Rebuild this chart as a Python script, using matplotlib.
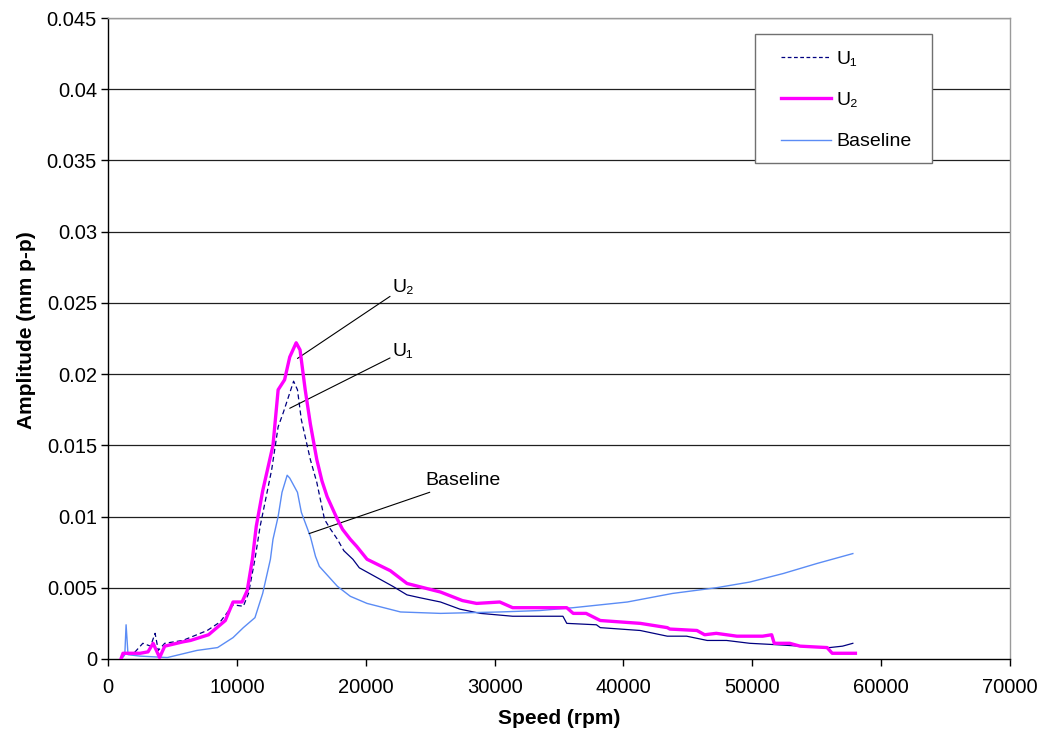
import matplotlib
matplotlib.use("Agg")
import matplotlib.pyplot as plt
from matplotlib.lines import Line2D
from matplotlib.patches import Rectangle
import numpy as np

plt.rcParams['font.family'] = ['Liberation Sans', 'DejaVu Sans']

# ---- data ----
u2_rpm = [1000, 1160, 2500, 3100, 3500, 4000, 4400, 5800, 6400, 7800, 9100, 9700, 10400, 10800,
          11200, 11500, 12000, 12300, 12800, 13200, 13700, 14100, 14600, 14900, 15300, 15700,
          16200, 16600, 17000, 17800, 18200, 18800, 19300, 20100, 21900, 23200, 25800, 27500,
          28600, 30400, 31400, 35600, 36100, 37100, 38200, 41300, 43400, 43600, 45700, 46300,
          47200, 48800, 50800, 51500, 51700, 52900, 53700, 55800, 56200, 58000]
u2_amp = [0.0, 0.0004, 0.0004, 0.0005, 0.0011, 0.0001, 0.0009, 0.0012, 0.0013, 0.0017, 0.0027,
          0.0040, 0.0040, 0.0048, 0.0070, 0.0093, 0.0118, 0.0130, 0.0150, 0.0189, 0.0196, 0.0212,
          0.0222, 0.0217, 0.0189, 0.0165, 0.0140, 0.0125, 0.0114, 0.0098, 0.0091, 0.0084, 0.0079,
          0.0070, 0.0062, 0.0053, 0.0047, 0.0041, 0.0039, 0.0040, 0.0036, 0.0036, 0.0032, 0.0032,
          0.0027, 0.0025, 0.0022, 0.0021, 0.0020, 0.0017, 0.0018, 0.0016, 0.0016, 0.0017, 0.0011,
          0.0011, 0.0009, 0.0008, 0.0004, 0.0004]

u1_rpm = [1000, 1300, 2000, 2700, 3300, 3650, 3900, 4400, 5800, 7700, 8700, 9700, 10500, 10900,
          11400, 11800, 12700, 13200, 13600, 14000, 14400, 14700, 15000, 15400, 15700, 16200,
          16800, 17200, 17800, 18300, 19000, 19500, 20300, 22100, 23200, 24200, 25800, 27300,
          28900, 31400, 35300, 35600, 37900, 38200, 41300, 43400, 44900, 46500, 48000, 49800,
          51900, 53700, 56000, 57000, 57800]
u1_amp = [0.0, 0.0003, 0.0004, 0.0011, 0.0009, 0.0018, 0.0006, 0.0011, 0.0013, 0.0020, 0.0026,
          0.0038, 0.0037, 0.0046, 0.0070, 0.0093, 0.0133, 0.0163, 0.0173, 0.0184, 0.0195, 0.0189,
          0.0168, 0.0152, 0.0140, 0.0124, 0.0098, 0.0092, 0.0084, 0.0076, 0.0070, 0.0064, 0.0060,
          0.0051, 0.0045, 0.0043, 0.0040, 0.0035, 0.0032, 0.0030, 0.0030, 0.0025, 0.0024, 0.0022,
          0.0020, 0.0016, 0.0016, 0.0013, 0.0013, 0.0011, 0.0010, 0.0009, 0.0008, 0.0009, 0.0011]

base_rpm = [1100, 1300, 1400, 1550, 2500, 4600, 6900, 8500, 9700, 10500, 11400, 12000, 12600,
            12800, 13200, 13500, 13900, 14100, 14700, 15000, 15700, 16100, 16400, 17800, 18800,
            20100, 22700, 25800, 30400, 33500, 36100, 40300, 43800, 47200, 49800, 52400, 55000,
            57800]
base_amp = [0.0001, 0.0003, 0.0024, 0.0003, 0.0002, 0.0001, 0.0006, 0.0008, 0.0015, 0.0022,
            0.0029, 0.0046, 0.0070, 0.0084, 0.0100, 0.0117, 0.0129, 0.0127, 0.0117, 0.0103,
            0.0086, 0.0072, 0.0065, 0.0051, 0.0044, 0.0039, 0.0033, 0.0032, 0.0033, 0.0034,
            0.0036, 0.0040, 0.0046, 0.0050, 0.0054, 0.0060, 0.0067, 0.0074]

x_ticks = [0, 10000, 20000, 30000, 40000, 50000, 60000, 70000]
y_ticks = [0, 0.005, 0.01, 0.015, 0.02, 0.025, 0.03, 0.035, 0.04, 0.045]
y_tick_labels = ['0', '0.005', '0.01', '0.015', '0.02', '0.025', '0.03', '0.035', '0.04', '0.045']
series_labels = ['U\u2081', 'U\u2082', 'Baseline']

C_U1 = '#000080'
C_U2 = '#FF00FF'
C_BASE = '#5B8CF5'

fig = plt.figure(figsize=(10.47, 7.42), dpi=100)
ax = fig.add_axes([0.1032, 0.1119, 0.8615, 0.8638])

ax.set_xlim(0, 70000)
ax.set_ylim(0, 0.045)
ax.set_xticks(x_ticks)
ax.set_xticklabels([str(v) for v in x_ticks])
ax.set_yticks(y_ticks)
ax.set_yticklabels(y_tick_labels)
ax.tick_params(axis='both', labelsize=14.5, direction='out', length=5, width=1, color='black')
ax.tick_params(axis='x', pad=9)
ax.tick_params(axis='y', pad=3)

for y in y_ticks[1:]:
    ax.axhline(y, color='#202020', lw=0.9, zorder=1)

for s in ['top', 'right']:
    ax.spines[s].set_color('#9a9a9a')
    ax.spines[s].set_linewidth(1)
for s in ['left', 'bottom']:
    ax.spines[s].set_color('black')
    ax.spines[s].set_linewidth(1)

u1x = np.array(u1_rpm); u1y = np.array(u1_amp)
mask_d = u1x <= 18300
mask_s = u1x >= 18300
ax.plot(u1x[mask_d], u1y[mask_d], color=C_U1, lw=0.9, ls=(0, (4, 2.5)), zorder=3)
ax.plot(u1x[mask_s], u1y[mask_s], color=C_U1, lw=0.9, zorder=3)
ax.plot(base_rpm, base_amp, color=C_BASE, lw=1.0, zorder=3)
ax.plot(u2_rpm, u2_amp, color=C_U2, lw=2.4, zorder=4)

# legend box (frame drawn separately to match padding)
ax.add_patch(Rectangle((0.7173, 0.7738), 0.1962, 0.2012, transform=ax.transAxes,
                       facecolor='white', edgecolor='#707070', lw=1, zorder=5))
handles = [Line2D([], [], color=C_U1, lw=0.9, ls=(0, (3, 2))),
           Line2D([], [], color=C_U2, lw=2.4),
           Line2D([], [], color=C_BASE, lw=1.0)]
leg = ax.legend(handles, series_labels, loc='upper left',
                bbox_to_anchor=(0.7461, 0.950), fontsize=14, frameon=False,
                handlelength=2.55, handletextpad=0.3, labelspacing=1.22,
                borderpad=0, borderaxespad=0)
leg.set_zorder(6)

ann_kw = dict(fontsize=14, ha='left', va='bottom',
              arrowprops=dict(arrowstyle='-', color='black', lw=0.8, shrinkA=0, shrinkB=0))
ax.annotate(series_labels[1], xy=(14700, 0.0211), xytext=(22100, 0.0255), **ann_kw)
ax.annotate(series_labels[0], xy=(14100, 0.0176), xytext=(22100, 0.0210), **ann_kw)
ax.annotate(series_labels[2], xy=(15600, 0.0088), xytext=(24600, 0.0119), **ann_kw)

ax.set_xlabel('Speed (rpm)', fontsize=15, fontweight='bold', labelpad=8)
ax.set_ylabel('Amplitude (mm p-p)', fontsize=15, fontweight='bold', labelpad=8)
ax.yaxis.label.set_y(0.513)

fig.savefig('out.png', dpi=100)
